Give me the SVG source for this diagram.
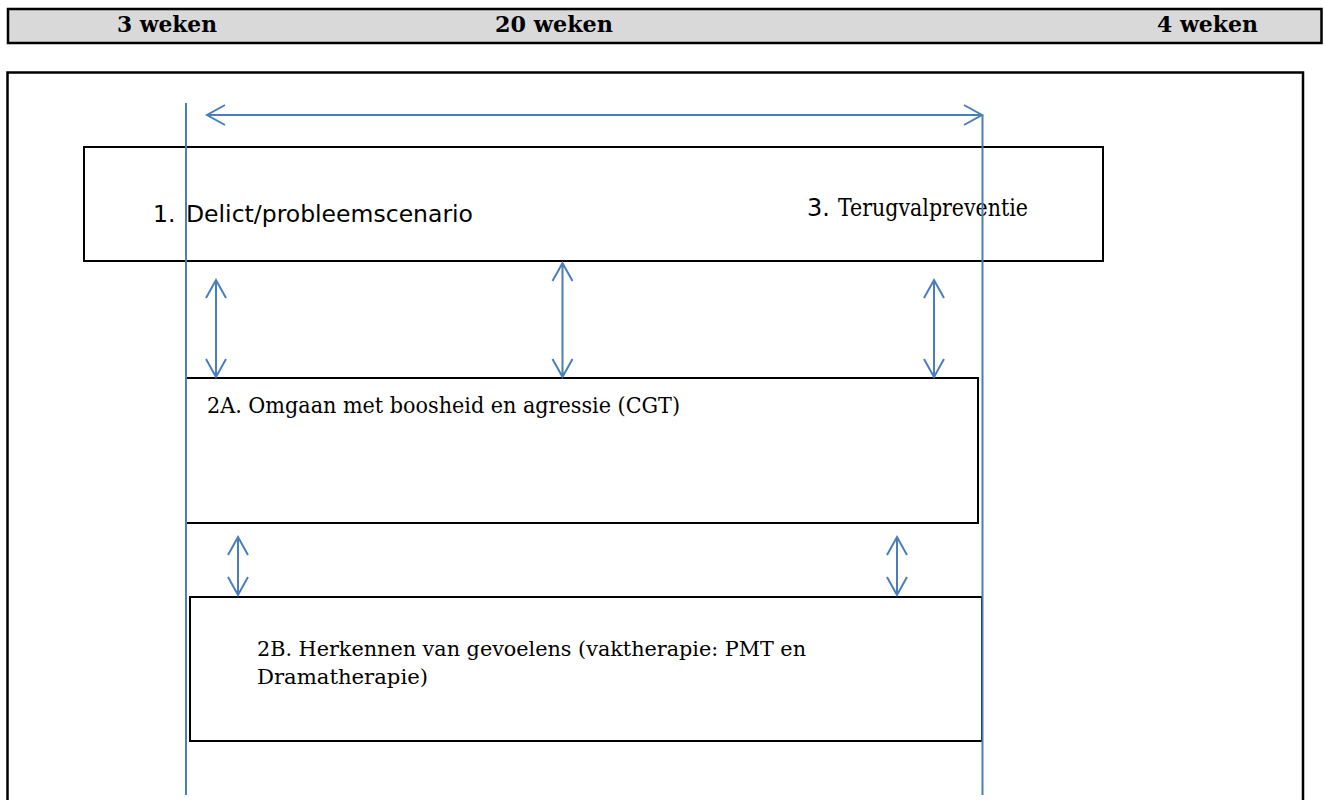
<svg xmlns="http://www.w3.org/2000/svg" width="1324" height="800" viewBox="0 0 1324 800">
<style>
.box{fill:#fff;stroke:#000;stroke-width:2}
.blue{stroke:#4a7ebb;stroke-width:2;fill:none}
.sans{font-family:"DejaVu Sans","Liberation Sans",sans-serif;fill:#000}
.serif{font-family:"DejaVu Serif","Liberation Serif",serif;fill:#000}
.hdr{font-family:"DejaVu Serif","Liberation Serif",serif;font-weight:bold;font-size:22px;fill:#000}
</style>
<rect width="1324" height="800" fill="#fff"/>
<g id="header">
<rect x="8" y="9" width="1313.5" height="34" fill="#d9d9d9" stroke="#000" stroke-width="2.5"/>
<text class="hdr" x="117" y="32" textLength="100" lengthAdjust="spacingAndGlyphs">3 weken</text>
<text class="hdr" x="495" y="32" textLength="118" lengthAdjust="spacingAndGlyphs">20 weken</text>
<text class="hdr" x="1157" y="32" textLength="101" lengthAdjust="spacingAndGlyphs">4 weken</text>
</g>
<g id="frame">
<rect x="7.5" y="72.5" width="1295.5" height="760" fill="none" stroke="#000" stroke-width="2.5"/>
</g>
<g id="node1">
<rect class="box" x="84" y="147" width="1019" height="114"/>
<text class="sans" x="153" y="222" font-size="23.5">1.</text>
<text class="sans" x="186" y="222" font-size="23.5" textLength="287" lengthAdjust="spacingAndGlyphs">Delict/probleemscenario</text>
<text class="sans" x="807" y="216" font-size="24">3.</text>
<text class="serif" x="838" y="216" font-size="24.5" textLength="190" lengthAdjust="spacingAndGlyphs">Terugvalpreventie</text>
</g>
<g id="node2A">
<rect class="box" x="186" y="378" width="792" height="145"/>
<text class="serif" x="207" y="413" font-size="22" textLength="473" lengthAdjust="spacingAndGlyphs">2A. Omgaan met boosheid en agressie (CGT)</text>
</g>
<g id="node2B">
<rect class="box" x="190" y="597" width="792" height="144"/>
<text class="serif" x="257" y="656" font-size="20.5" textLength="549" lengthAdjust="spacingAndGlyphs">2B. Herkennen van gevoelens (vaktherapie: PMT en</text>
<text class="serif" x="257" y="684" font-size="20.5" textLength="171" lengthAdjust="spacingAndGlyphs">Dramatherapie)</text>
</g>
<g id="connectors" class="blue">
<line x1="186" y1="103" x2="186" y2="795"/>
<line x1="982.5" y1="115" x2="982.5" y2="795"/>
<path d="M207 115H982 M225 105L207 115L225 125 M964 105L982 115L964 125"/>
<path d="M216 280V377 M206 298L216 280L226 298 M206 359L216 377L226 359"/>
<path d="M562.5 263V377 M552.5 281L562.5 263L572.5 281 M552.5 359L562.5 377L572.5 359"/>
<path d="M934 280V377 M924 298L934 280L944 298 M924 359L934 377L944 359"/>
<path d="M238 537V595 M228 555L238 537L248 555 M228 577L238 595L248 577"/>
<path d="M897 537V595 M887 555L897 537L907 555 M887 577L897 595L907 577"/>
</g>
</svg>
